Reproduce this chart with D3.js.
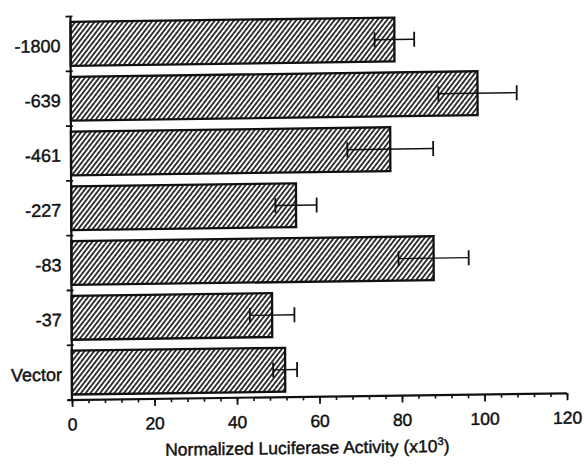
<meta charset="utf-8"/>
<html>
<head>
<script src="https://d3js.org/d3.v7.min.js"></script>
<style>
  * { margin: 0; padding: 0; }
  body { background: #fff; }
  text { font-family: "Liberation Sans", Arial, Helvetica, sans-serif; fill: #111; stroke: #111; stroke-width: 0.45px; }
</style>
</head>
<body>
<div id="chart"></div>
<script>
// promoter constructs, top to bottom
var constructs = ["-1800", "-639", "-461", "-227", "-83", "-37", "Vector"];
// normalized luciferase activity (x10^3)
var activity = [78.5, 98.6, 77.4, 54.5, 87.8, 48.6, 51.7];
var errors = [4.8, 9.5, 10.4, 5.0, 8.5, 5.4, 2.9];
var majorTicks = [0, 20, 40, 60, 80, 100, 120];

var width = 584, height = 464;
var margin = {left: 72, top: 16.5, right: 17, bottom: 64};

var svg = d3.select("#chart").append("svg")
    .attr("width", width)
    .attr("height", height);

svg.append("rect").attr("width", width).attr("height", height).attr("fill", "#fff");

// the scan is slightly skewed, so the whole figure is too
var g = svg.append("g")
    .attr("transform", "matrix(1,-0.0135,0.004,1,-1.6,0.97)");

var x = d3.scaleLinear().domain([0, 120]).range([margin.left, width - margin.right]);
var y = d3.scaleBand().domain(constructs)
    .range([margin.top, height - margin.bottom])
    .paddingInner(0.2).paddingOuter(0.1);

var defs = svg.append("defs");
defs.append("pattern")
    .attr("id", "hatch")
    .attr("patternUnits", "userSpaceOnUse")
    .attr("width", 3.8).attr("height", 10)
    .attr("patternTransform", "rotate(38)")
    .append("line")
    .attr("x1", 1.9).attr("x2", 1.9).attr("y1", 0).attr("y2", 10)
    .attr("stroke", "#000").attr("stroke-width", 1.55);

// bars
g.selectAll(".bar").data(constructs).enter().append("rect")
    .attr("class", "bar")
    .attr("x", x(0))
    .attr("y", d => y(d))
    .attr("width", (d, i) => x(activity[i]) - x(0))
    .attr("height", y.bandwidth())
    .attr("fill", "url(#hatch)")
    .attr("stroke", "#111")
    .attr("stroke-width", 2.3);

// error bars
var eb = g.selectAll(".err").data(constructs).enter().append("g")
    .attr("class", "err")
    .attr("transform", d => "translate(0," + (y(d) + y.bandwidth() / 2) + ")");
eb.append("line")
    .attr("x1", (d, i) => x(activity[i] - errors[i]))
    .attr("x2", (d, i) => x(activity[i] + errors[i]))
    .attr("stroke", "#111").attr("stroke-width", 1.4);
eb.append("line")
    .attr("x1", (d, i) => x(activity[i] - errors[i]))
    .attr("x2", (d, i) => x(activity[i] - errors[i]))
    .attr("y1", -7.5).attr("y2", 7.5)
    .attr("stroke", "#111").attr("stroke-width", 1.8);
eb.append("line")
    .attr("x1", (d, i) => x(activity[i] + errors[i]))
    .attr("x2", (d, i) => x(activity[i] + errors[i]))
    .attr("y1", -7.5).attr("y2", 7.5)
    .attr("stroke", "#111").attr("stroke-width", 1.8);

// x axis: minor then major ticks
var axisY = height - margin.bottom;
var minor = g.append("g")
    .attr("transform", "translate(0," + axisY + ")")
    .call(d3.axisBottom(x).tickValues(d3.range(0, 121, 4)).tickSize(3.5).tickSizeOuter(0).tickFormat(""));
minor.select(".domain").remove();
minor.selectAll("line").attr("stroke", "#111").attr("stroke-width", 1.6);

var xAxis = g.append("g")
    .attr("transform", "translate(0," + axisY + ")")
    .call(d3.axisBottom(x).tickValues(majorTicks).tickSize(7).tickSizeOuter(0).tickPadding(11));
xAxis.select(".domain").attr("stroke", "#111").attr("stroke-width", 2.2)
    .attr("d", "M" + (x(0) - 4) + ",0H" + x(120));
xAxis.selectAll(".tick line").attr("stroke", "#111").attr("stroke-width", 1.8);
xAxis.selectAll(".tick text").attr("font-size", 17.5).style("fill", "#111");

// y axis: vertical line with ticks at the band edges, labels centred in bands
var edges = d3.range(0, constructs.length + 1).map(i => y.range()[0] + i * y.step());
g.append("line")
    .attr("x1", x(0)).attr("x2", x(0))
    .attr("y1", edges[0]).attr("y2", axisY)
    .attr("stroke", "#111").attr("stroke-width", 2.2);
g.selectAll(".ytick").data(edges).enter().append("line")
    .attr("x1", x(0) - 5).attr("x2", x(0) + 2)
    .attr("y1", d => d).attr("y2", d => d)
    .attr("stroke", "#111").attr("stroke-width", 1.8);

g.selectAll(".ylab").data(constructs).enter().append("text")
    .attr("x", x(0) - 10)
    .attr("y", d => y(d) + y.bandwidth() / 2)
    .attr("dy", "0.45em")
    .attr("text-anchor", "end")
    .attr("font-size", 18)
    .text(d => d);

// axis title
var title = g.append("text")
    .attr("x", x(57))
    .attr("y", 457)
    .attr("text-anchor", "middle")
    .attr("font-size", 17.5);
title.append("tspan").text("Normalized Luciferase Activity (x10");
title.append("tspan").attr("dy", -7).attr("font-size", 11).text("3");
title.append("tspan").attr("dy", 7).text(")");
</script>
</body>
</html>
